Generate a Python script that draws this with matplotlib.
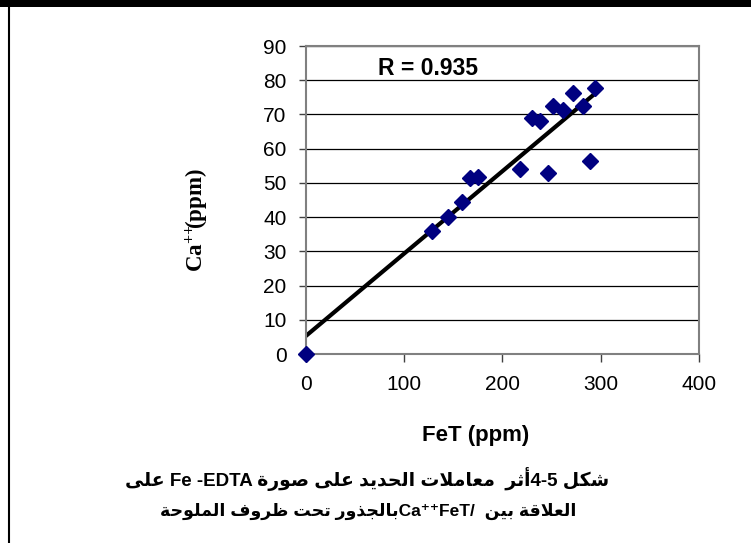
import matplotlib
matplotlib.use("Agg")
import matplotlib.pyplot as plt
from matplotlib.lines import Line2D
from matplotlib.patches import Rectangle

# -----------------------
# DATA
# -----------------------

fet = [0, 128, 145, 159, 167, 175, 218, 230, 238, 246, 251, 262, 272, 282, 289, 294]
ca = [0, 36, 40.1, 44.5, 51.3, 51.8, 54.1, 69.1, 68, 53, 72.5, 71.3, 76.2, 72.5, 56.3, 77.8]

trend_x = [0, 295]
trend_y = [5.3, 76.3]

x_ticks = [0, 100, 200, 300, 400]
y_ticks = [0, 10, 20, 30, 40, 50, 60, 70, 80, 90]
r_label = "R = 0.935"

# -----------------------
# ARABIC SHAPING (no bidi/shaping engine in matplotlib)
# -----------------------

DUAL = {'ب': 0xFE8F, 'ت': 0xFE95, 'ث': 0xFE99, 'ج': 0xFE9D, 'ح': 0xFEA1,
        'ش': 0xFEB5, 'ص': 0xFEB9, 'ظ': 0xFEC5, 'ع': 0xFEC9, 'ف': 0xFED1,
        'ق': 0xFED5, 'ك': 0xFED9, 'ل': 0xFEDD, 'م': 0xFEE1, 'ن': 0xFEE5,
        'ي': 0xFEF1}
RIGHT = {'ا': 0xFE8D, 'أ': 0xFE83, 'د': 0xFEA9, 'ذ': 0xFEAB, 'ر': 0xFEAD,
         'و': 0xFEED, 'ة': 0xFE93, 'ى': 0xFEEF}
LAM_ALEF = {'ا': 0xFEFB, 'أ': 0xFEF7}


def ar(text):
    # pick presentation forms, then flip to visual (left-to-right) order
    out = []
    prev_joins = False
    i = 0
    while i < len(text):
        c = text[i]
        nxt = text[i + 1] if i + 1 < len(text) else ''
        if c == 'ل' and nxt in LAM_ALEF:
            out.append(chr(LAM_ALEF[nxt] + (1 if prev_joins else 0)))
            prev_joins = False
            i += 2
            continue
        next_ok = nxt in DUAL or nxt in RIGHT
        if c in DUAL:
            if prev_joins and next_ok:
                form = 3
            elif prev_joins:
                form = 1
            elif next_ok:
                form = 2
            else:
                form = 0
            out.append(chr(DUAL[c] + form))
            prev_joins = True
        elif c in RIGHT:
            out.append(chr(RIGHT[c] + (1 if prev_joins else 0)))
            prev_joins = False
        else:
            out.append(c)
            prev_joins = False
        i += 1
    return ''.join(reversed(out))


caption_1 = ar("على") + " Fe -EDTA " + ar("أثر  معاملات الحديد على صورة") + "4-5 " + ar("شكل")
caption_2 = ar("بالجذور تحت ظروف الملوحة") + "Ca⁺⁺FeT/  " + ar("العلاقة بين")

# -----------------------
# PLOT
# -----------------------

plt.rcParams['font.family'] = ['Liberation Sans', 'DejaVu Sans']
plt.rcParams['mathtext.fontset'] = 'custom'
plt.rcParams['mathtext.bf'] = 'Liberation Serif:bold'
plt.rcParams['mathtext.rm'] = 'Liberation Serif:bold'

W, H = 751, 543
fig = plt.figure(figsize=(W / 100, H / 100), dpi=100)
ax = fig.add_axes([306 / W, 1 - 354 / H, (699 - 306) / W, (354 - 46) / H])

ax.plot(trend_x, trend_y, color='black', lw=3, zorder=2)
ax.plot(fet, ca, 'D', color='#000080', ms=8, mec='#000080', zorder=3, clip_on=False)

ax.set_xlim(0, 400)
ax.set_ylim(0, 90)
ax.set_xticks(x_ticks)
ax.set_yticks(y_ticks)
ax.tick_params(axis='both', labelsize=15, colors='#404040', labelcolor='black')
ax.tick_params(axis='x', length=6, width=1, pad=9)
ax.tick_params(axis='y', length=5, width=1, pad=9)
ax.grid(axis='y', color='black', lw=0.9)
ax.set_axisbelow(True)
for s in ax.spines.values():
    s.set_color('#808080')
    s.set_linewidth(1.5)

ax.text(124, 83.3, r_label, fontsize=16.5, fontweight='bold', ha='center', va='center')

fig.text(476 / W, 1 - 436 / H, "FeT (ppm)", fontsize=16, fontweight='bold',
         ha='center', va='center')
fig.text(197 / W, 1 - 220 / H, r"$\mathbf{Ca^{{+}{+}}\!(ppm)}$", fontsize=16.5,
         rotation=90, ha='center', va='center')

fig.text(367 / W, 1 - 479 / H, caption_1, fontsize=13.5, fontweight='bold',
         ha='center', va='center')
fig.text(368 / W, 1 - 511 / H, caption_2, fontsize=12.5, fontweight='bold',
         ha='center', va='center')

# page frame: thick bar on top, thin rule on the left
fig.add_artist(Rectangle((0, 1 - 7 / H), 1, 7 / H, transform=fig.transFigure,
                         color='black', lw=0))
fig.add_artist(Line2D([9 / W, 9 / W], [0, 1], transform=fig.transFigure,
                      color='black', lw=1.5))

fig.savefig("out.png", dpi=100)
